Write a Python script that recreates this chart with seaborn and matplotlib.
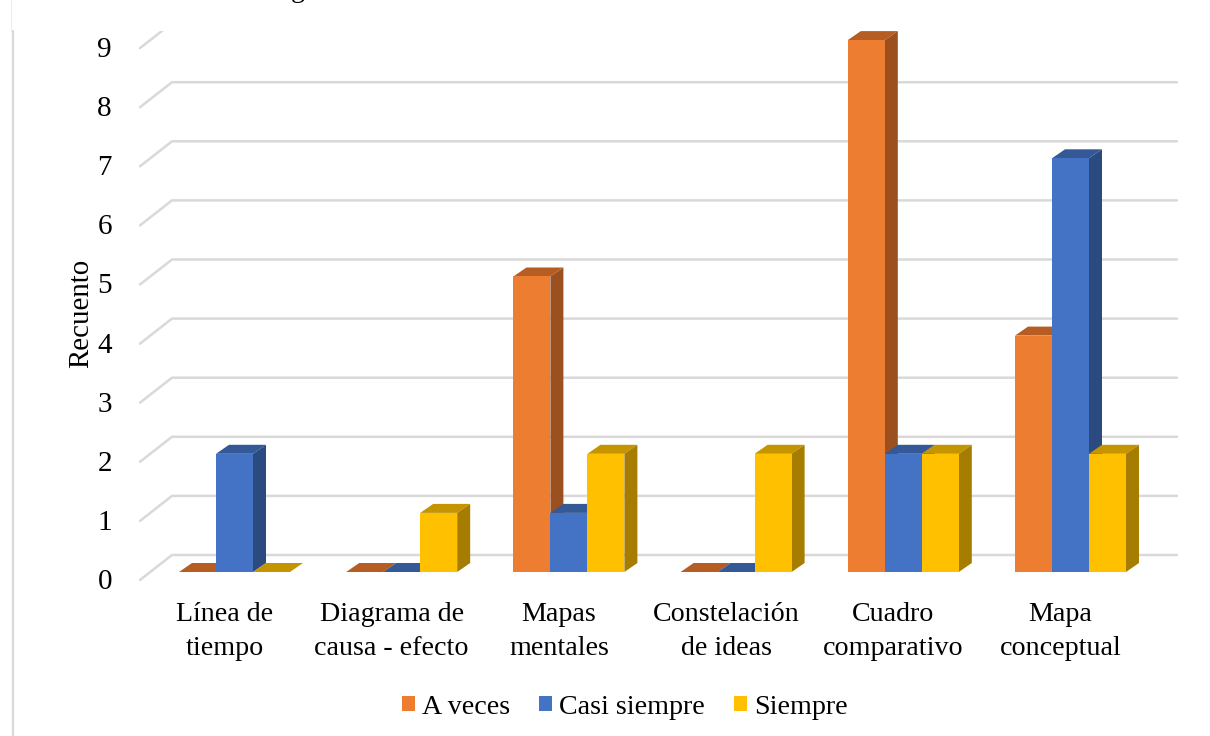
import pandas as pd
import seaborn as sns
import matplotlib.pyplot as plt
from matplotlib.patches import Polygon
from matplotlib.lines import Line2D

categories = ["Línea de\ntiempo", "Diagrama de\ncausa - efecto", "Mapas\nmentales",
              "Constelación\nde ideas", "Cuadro\ncomparativo", "Mapa\nconceptual"]
series_names = ["A veces", "Casi siempre", "Siempre"]
a_veces = [0, 0, 5, 0, 9, 4]
casi_siempre = [2, 0, 1, 0, 2, 7]
siempre = [0, 1, 2, 2, 2, 2]
y_ticks = [0, 1, 2, 3, 4, 5, 6, 7, 8, 9]

colors = ["#ED7D31", "#4472C4", "#FFC000"]
top_colors = ["#B55D23", "#355896", "#C49500"]
side_colors = ["#9C5020", "#2A4A80", "#A67D00"]

W, H = 1210, 736
XU, YU = 167.2, 59.1  # px per category / per count

sns.set_theme(style="white")
plt.rcParams["font.family"] = ["Liberation Serif", "DejaVu Serif"]

df = pd.DataFrame({
    "cat": categories * 3,
    "serie": [s for s in series_names for _ in categories],
    "n": a_veces + casi_siempre + siempre,
})

fig = plt.figure(figsize=(W / 100, H / 100), dpi=100, facecolor="white")
ax = fig.add_axes([130 / W, (H - 584) / H, 1060 / W, 553 / H])

sns.barplot(data=df, x="cat", y="n", hue="serie", hue_order=series_names,
            palette=colors, width=111 / XU, gap=0, saturation=1, linewidth=0, ax=ax)

ax.set_xlim((130 - 234.5) / XU, (1190 - 234.5) / XU)
ax.set_ylim(-12 / YU, 541 / YU)
sns.despine(ax=ax, left=True, bottom=True, top=True, right=True)

# back wall + left wall gridlines
dx_wall, dy_back, dy_front = 30 / XU, 17 / YU, 8 / YU
x0 = (140 - 234.5) / XU
x1 = (1177 - 234.5) / XU
for v in y_ticks:
    ax.plot([x0, x0 + dx_wall + 2 / XU, x1], [v - dy_front, v + dy_back, v + dy_back],
            color="#D9D9D9", lw=1.8, zorder=0.5, solid_joinstyle="miter")

# depth faces of the bars, taken from the bars seaborn drew
dx, dy = 13 / XU, 9 / YU
for i, cont in enumerate(ax.containers):
    for bar in cont:
        bar.set_zorder(3 + i + 0.5)
        xl, w, h = bar.get_x(), bar.get_width(), bar.get_height()
        xr = xl + w
        ax.add_patch(Polygon([(xl, h), (xr, h), (xr + dx, h + dy), (xl + dx, h + dy)],
                             fc=top_colors[i], ec="none", zorder=3 + i))
        if h > 0:
            ax.add_patch(Polygon([(xr, 0), (xr + dx, dy), (xr + dx, h + dy), (xr, h)],
                                 fc=side_colors[i], ec="none", zorder=3 + i))

ax.set_xticks([i - 0.06 for i in range(len(categories))])
ax.set_xticklabels(categories, fontsize=20.2, color="black", linespacing=1.46)
ax.set_yticks([v - 7 / YU for v in y_ticks])
ax.set_yticklabels(y_ticks, fontsize=21, color="black")
ax.tick_params(axis="x", length=0, pad=13)
ax.tick_params(axis="y", length=0, pad=13)
ax.set_xlabel("")
ax.set_ylabel("")
fig.text(81 / W, 1 - 313 / H, "Recuento", rotation=90, fontsize=20.8,
         ha="center", va="center", color="black")

handles, labels = ax.get_legend_handles_labels()
ax.get_legend().remove()
fig.legend(handles, labels, loc="center", bbox_to_anchor=(625 / W, 1 - 707 / H), ncol=3,
           frameon=False, fontsize=20.2, handlelength=0.46, handleheight=0.46,
           handletextpad=0.25, columnspacing=1.03, labelcolor="black")

# page border and the bit of the caption above the crop
fig.add_artist(Line2D([12.5 / W, 12.5 / W], [0, 1 - 31 / H], color="#D9D9D9", lw=1.6))
fig.add_artist(Line2D([11.5 / W, 11.5 / W], [1 - 31 / H, 1], color="#EDEDED", lw=0.8))
fig.text(298 / W, 1 + 3 / H, "g", fontsize=20.2, ha="center", va="baseline", color="black")

fig.savefig("out.png", dpi=100)
